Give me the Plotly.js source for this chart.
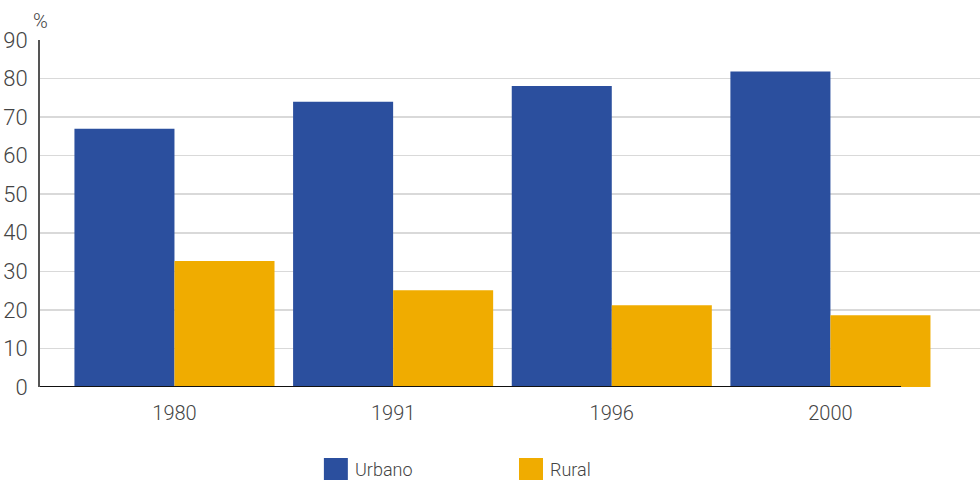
<!DOCTYPE html>
<html>
<head>
<meta charset="utf-8">
<script src="https://cdn.plot.ly/plotly-3.0.1.min.js"></script>
<style>html,body{margin:0;padding:0;background:#fff;}#chart{width:980px;height:480px;}</style>
</head>
<body>
<div id="chart"></div>
<script>
const years = ['1980', '1991', '1996', '2000'];
const urbano = [67.0, 74.0, 78.1, 81.8];
const rural = [32.7, 25.1, 21.2, 18.6];
const seriesNames = ['Urbano', 'Rural'];
const seriesColors = ['#2B4F9E', '#F0AC00'];
const yTicks = [0, 10, 20, 30, 40, 50, 60, 70, 80, 90];

const FONT = 'Roboto, "Liberation Sans", sans-serif';

const traces = [
  {type: 'bar', name: seriesNames[0], x: years, y: urbano, marker: {color: seriesColors[0]}, hoverinfo: 'y'},
  {type: 'bar', name: seriesNames[1], x: years, y: rural, marker: {color: seriesColors[1]}, hoverinfo: 'y'}
];

// custom legend (swatch + label) in paper coordinates
const legendX = [0.302, 0.5096];
const legendShapes = seriesNames.map((n, i) => ({
  type: 'rect', xref: 'paper', yref: 'paper',
  x0: legendX[i], x1: legendX[i] + 0.0255, y0: -0.268, y1: -0.2046,
  fillcolor: seriesColors[i], line: {width: 0}
}));
const legendLabels = seriesNames.map((n, i) => ({
  text: n, xref: 'paper', yref: 'paper', x: legendX[i] + 0.031, y: -0.238,
  xanchor: 'left', yanchor: 'middle', showarrow: false,
  font: {size: 18, color: '#444', family: FONT, weight: 300}
}));

const layout = {
  width: 980, height: 480,
  margin: {l: 40, r: 0, t: 40, b: 93, autoexpand: false},
  paper_bgcolor: '#fff', plot_bgcolor: '#fff',
  barmode: 'group', bargap: 0.085, bargroupgap: 0,
  font: {family: FONT, color: '#444', size: 20, weight: 300},
  xaxis: {
    type: 'category', range: [-0.615, 3.684],
    showgrid: false, zeroline: false, showline: false,
    ticks: '', tickfont: {size: 20, color: '#444', family: FONT, weight: 300},
    ticklabelstandoff: 12
  },
  yaxis: {
    range: [0, 90], tickvals: yTicks, ticktext: yTicks.map(String),
    showgrid: true, gridcolor: '#d9d9d9', gridwidth: 1.5,
    zeroline: false, showline: true, linecolor: '#555', linewidth: 2,
    ticks: '', tickfont: {size: 22, color: '#444', family: FONT, weight: 300}, ticklabelstandoff: 6
  },
  shapes: [
    {type: 'line', xref: 'paper', yref: 'y', x0: 0, x1: 0.916, y0: 0, y1: 0, line: {color: '#111', width: 2}}
  ].concat(legendShapes),
  annotations: [
    {text: '%', xref: 'paper', yref: 'paper', x: 0.0, y: 1.0, xanchor: 'center', yanchor: 'bottom', yshift: 5, showarrow: false, font: {size: 20, color: '#444', family: FONT, weight: 300}}
  ].concat(legendLabels),
  showlegend: false
};

Plotly.newPlot('chart', traces, layout, {displayModeBar: false, staticPlot: true});
</script>
</body>
</html>
